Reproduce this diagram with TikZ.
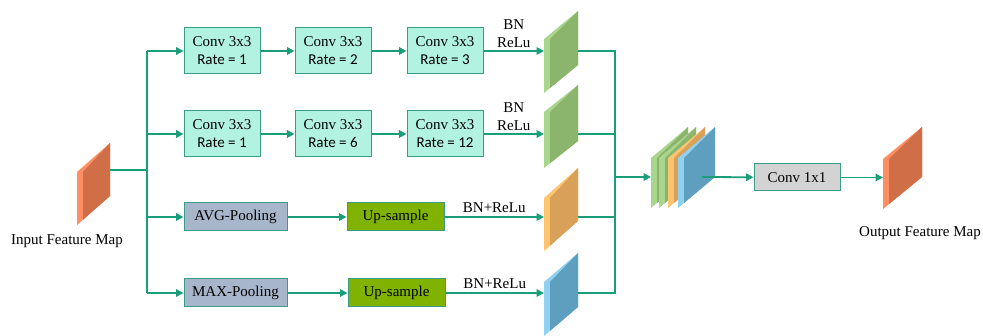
\documentclass[tikz,border=0pt]{standalone}
\usepackage{fontspec}
\setmainfont{Liberation Serif}
\newfontfamily\calibri{Carlito}
\usepackage{xcolor}
\usetikzlibrary{arrows.meta}

\definecolor{linkgreen}{HTML}{1A9E7A}
\definecolor{boxline}{HTML}{3A9C86}
\definecolor{aqua}{HTML}{B2F2E0}
\definecolor{poolgray}{HTML}{A8B6CB}
\definecolor{upgreen}{HTML}{80B300}
\definecolor{convgray}{HTML}{D3D3D3}
\definecolor{inlight}{HTML}{FF8F62}
\definecolor{indark}{HTML}{D06E48}
\definecolor{grnlight}{HTML}{AAD58C}
\definecolor{grndark}{HTML}{8BB56C}
\definecolor{orglight}{HTML}{FFC470}
\definecolor{orgdark}{HTML}{D8A058}
\definecolor{blulight}{HTML}{90D0F0}
\definecolor{bludark}{HTML}{5E9FC0}

% feature map slab: name, x, y (top of front edge), width, rise, height, light, dark
\newcommand{\fmap}[8]{%
  \fill[#7] (#2,#3) -- ++(#4,-#5) -- ++(0,#6) -- ++(-#4,#5) -- cycle;
  \fill[#8] (#2+6,#3) -- (#2+#4,#3-#5) -- (#2+#4,#3-#5+#6) -- (#2+6,#3+#6-6*#5/#4) -- cycle;
  \coordinate (#1) at (#2,#3);
  \coordinate (#1-r) at (#2+#4,#3);
}

\begin{document}
\begin{tikzpicture}[x=1pt,y=-1pt,font=\fontsize{15}{18}\selectfont,
  >={Triangle[length=7.5pt,width=7.5pt]},
  link/.style={draw=linkgreen,line width=1.8pt},
  convbox/.style={draw=boxline,line width=1pt,fill=aqua,minimum width=76pt,minimum height=46pt,align=center,inner sep=1pt},
  poolbox/.style={draw=boxline,line width=1pt,fill=poolgray,minimum width=103pt,minimum height=28pt,inner sep=1pt},
  upbox/.style={draw=boxline,line width=1pt,fill=upgreen,minimum width=97pt,minimum height=28pt,inner sep=1pt},
  mixbox/.style={draw=boxline,line width=1pt,fill=convgray,minimum width=86pt,minimum height=27pt,inner sep=1pt}]
\useasboundingbox (0,0) rectangle (983,336);

% feature maps
\fmap{in}{77}{172}{33}{29}{53}{inlight}{indark}
\fmap{g1}{544}{39}{34}{28}{54}{grnlight}{grndark}
\fmap{g2}{544}{112}{34}{27}{56}{grnlight}{grndark}
\fmap{o1}{544}{198}{34}{30}{53}{orglight}{orgdark}
\fmap{b1}{544}{282}{34}{29}{54}{blulight}{bludark}
% concatenated maps
\fmap{s1}{651}{158}{37}{31}{50}{grnlight}{grndark}
\fmap{s2}{659}{158}{37}{31}{50}{grnlight}{grndark}
\fmap{s3}{668}{158}{37}{31}{50}{orglight}{orgdark}
\fmap{s4}{678}{158}{37}{31}{50}{blulight}{bludark}
\fmap{out}{883}{159}{39}{32}{50}{inlight}{indark}

\node (inlabel) at (67,241) {Input Feature Map};
\node (outlabel) at (920,233) {Output Feature Map};

% atrous branches
\node[convbox] (c11) at (222,51) {Conv 3x3\\{\calibri Rate = 1}};
\node[convbox] (c12) at (333,51) {Conv 3x3\\{\calibri Rate = 2}};
\node[convbox] (c13) at (445,51) {Conv 3x3\\{\calibri Rate = 3}};
\node[convbox] (c21) at (222,134) {Conv 3x3\\{\calibri Rate = 1}};
\node[convbox] (c22) at (333,134) {Conv 3x3\\{\calibri Rate = 6}};
\node[convbox] (c23) at (445,134) {Conv 3x3\\{\calibri Rate = 12}};
% pooling branches
\node[poolbox] (avg) at (235.5,217) {AVG-Pooling};
\node[upbox] (up1) at (395.5,217) {Up-sample};
\node[poolbox] (max) at (235.5,293) {MAX-Pooling};
\node[upbox] (up2) at (396.5,293) {Up-sample};
\node[mixbox] (c1x1) at (797,177.5) {Conv 1x1};

\coordinate (split) at (147,170);
\coordinate (merge) at (615,177);
\coordinate (catout) at (702,177);

\draw[link] (in-r |- split) -- (split);
\draw[link] (split |- c11) -- (split |- max);
\draw[link,->] (split |- c11) -- (c11);
\draw[link,->] (split |- c21) -- (c21);
\draw[link,->] (split |- avg) -- (avg);
\draw[link,->] (split |- max) -- (max);

\draw[link,->] (c11) -- (c12);
\draw[link,->] (c12) -- (c13);
\draw[link,->] (c21) -- (c22);
\draw[link,->] (c22) -- (c23);
\draw[link,->] (avg) -- (up1);
\draw[link,->] (max) -- (up2);

\draw[link,->] (c13) -- (c13 -| g1) node[midway,above=1pt,align=center,text=black,inner sep=1pt] {BN\\ReLu};
\draw[link,->] (c23) -- (c23 -| g2) node[midway,above=1pt,align=center,text=black,inner sep=1pt] {BN\\ReLu};
\draw[link,->] (up1) -- (up1 -| o1) node[midway,above=2pt,text=black,inner sep=1pt] {BN+ReLu};
\draw[link,->] (up2) -- (up2 -| b1) node[midway,above=2pt,text=black,inner sep=1pt] {BN+ReLu};

% collect the four branches
\draw[link] (g1-r |- c13) -| (merge |- up2) -- (b1-r |- up2);
\draw[link] (g2-r |- c23) -- (merge |- c23);
\draw[link] (o1-r |- up1) -- (merge |- up1);
\draw[link,->] (merge) -- (merge -| s1);

\draw[link,->] (catout) -- (c1x1);
\draw[link,->] (c1x1) -- (c1x1 -| out);
\end{tikzpicture}
\end{document}
